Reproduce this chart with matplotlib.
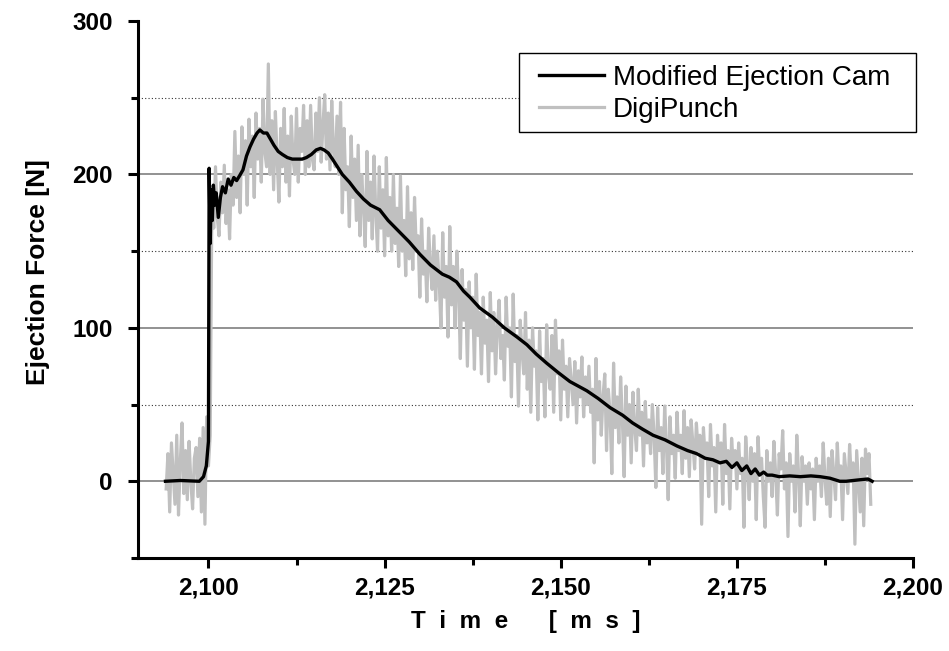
import numpy as np
import matplotlib
matplotlib.use("Agg")
import matplotlib.pyplot as plt
from matplotlib.patches import Rectangle
from matplotlib.ticker import MultipleLocator, FuncFormatter

plt.rcParams['font.family'] = ['Liberation Sans', 'DejaVu Sans']

# Modified Ejection Cam (smooth black trace)
cam_time = [2093.9, 2096.0, 2098.7, 2099.3, 2099.7, 2100.0, 2100.1, 2100.25, 2100.4, 2100.55,
            2100.7, 2100.9, 2101.1, 2101.4, 2101.7, 2102.0, 2102.4, 2102.8, 2103.2, 2103.6,
            2104.0, 2104.4, 2104.9, 2105.4, 2105.9, 2106.4, 2106.9, 2107.3, 2107.8, 2108.3,
            2108.8, 2109.3, 2109.9, 2110.5, 2111.2, 2111.9, 2112.6, 2113.3, 2113.9, 2114.6,
            2115.3, 2115.9, 2116.4, 2117.0, 2117.6, 2118.3, 2119.0, 2120.0, 2121.0, 2122.0,
            2123.0, 2124.3, 2125.5, 2127.0, 2128.5, 2130.0, 2131.5, 2133.2, 2134.2, 2135.2,
            2136.2, 2137.1, 2138.5, 2140.3, 2142.0, 2143.8, 2145.2, 2146.5, 2148.0, 2149.6,
            2151.3, 2152.5, 2153.7, 2155.3, 2157.0, 2158.8, 2160.2, 2161.6, 2163.1, 2164.8,
            2166.5, 2168.0, 2169.3, 2170.5, 2171.6, 2172.6, 2173.5, 2174.3, 2175.0, 2175.7,
            2176.4, 2177.0, 2177.6, 2178.2, 2178.8, 2179.3, 2180.0, 2181.0, 2182.5, 2184.0,
            2185.5, 2186.8, 2188.2, 2189.6, 2190.5, 2191.5, 2192.5, 2193.6, 2194.2]
cam_force = [0, 0.5, 0, 3, 10, 26, 204, 155, 190, 170,
             193, 180, 188, 172, 185, 192, 188, 197, 193, 198,
             196, 199, 203, 212, 218, 223, 227, 229, 227, 227,
             223, 219, 215, 213, 211, 210, 210, 210, 211, 213,
             216, 217, 216, 214, 210, 205, 200, 195, 189, 184,
             180, 177, 170, 163, 156, 148, 141, 135, 133, 130,
             124, 120, 113, 107, 100, 94, 89, 83, 77, 71,
             65, 62, 59, 54, 48, 43, 38, 34, 30, 27,
             23, 20, 18, 15, 14, 12, 13, 9, 12, 7,
             10, 5, 8, 4, 6, 4, 4, 3, 3.5, 3,
             3.5, 3, 2, 0, 0, 0.5, 1, 1.5, 0]

# DigiPunch (noisy grey trace), one reading every 0.25 ms from 2094 ms
digi_start = 2094.0
digi_step = 0.25
digi_force = [
    -5, 18, -20, 25, 5, -15, 30, -22, 12, 38,
    -8, 20, -12, 26, 0, -18, 15, 22, -10, 28,
    -20, 35, -28, 42, 10, 30, 190, 165, 205, 172,
    160, 195, 175, 206, 168, 190, 158, 200, 180, 228,
    185, 212, 175, 231, 200, 222, 180, 236, 205, 225,
    185, 240, 210, 230, 195, 249, 215, 205, 272, 200,
    235, 190, 241, 210, 182, 230, 205, 243, 195, 225,
    186, 238, 210, 200, 243, 195, 230, 215, 245, 200,
    235, 205, 245, 210, 203, 240, 215, 250, 208, 232,
    252, 210, 240, 203, 248, 215, 205, 238, 200, 247,
    175, 230, 190, 205, 166, 225, 185, 210, 170, 219,
    160, 200, 180, 153, 215, 170, 195, 158, 212, 175,
    150, 205, 165, 190, 147, 211, 160, 185, 150, 200,
    155, 178, 140, 199, 150, 170, 134, 192, 145, 175,
    138, 185, 150, 160, 120, 171, 135, 150, 117, 165,
    140, 125, 160, 118, 150, 130, 100, 162, 120, 140,
    94, 166, 115, 140, 100, 150, 125, 80, 138, 105,
    125, 75, 130, 100, 120, 73, 135, 95, 110, 70,
    120, 90, 105, 65, 123, 85, 110, 70, 100, 118,
    80, 95, 66, 120, 88, 100, 55, 122, 78, 95,
    49, 105, 85, 70, 110, 60, 92, 45, 100, 75,
    85, 40, 98, 65, 80, 42, 102, 70, 60, 95,
    45, 105, 70, 85, 40, 92, 60, 75, 42, 80,
    65, 50, 78, 38, 72, 55, 81, 42, 68, 50,
    75, 45, 60, 12, 80, 40, 65, 30, 55, 70,
    20, 60, 45, 5, 77, 35, 55, 25, 68, 40,
    3, 62, 30, 50, 12, 58, 35, 20, 60, 30,
    45, 10, 52, 25, 40, 18, 50, 30, -4, 48,
    20, 35, 5, 49, 25, -12, 42, 18, 30, 2,
    45, 20, 30, 5, 46, 15, 35, 3, 40, 25,
    8, 38, 20, 30, -28, 35, 15, 25, -10, 37,
    10, 22, -20, 30, 12, 25, -15, 37, 5, 20,
    -18, 28, 10, 20, -5, 25, 5, 15, -30, 29,
    10, -12, 22, 0, 18, -25, 29, 5, 15, -10,
    -30, 20, 0, 12, -10, 26, 5, -22, 18, 8,
    33, -5, 12, -36, 18, 0, 10, -20, 30, 5,
    -29, 16, 0, 10, -15, 12, -5, 8, -25, 15,
    0, 10, -10, 25, 2, -15, 15, -23, 20, 5,
    -12, 25, 0, 10, -25, 18, 5, -8, 24, 0,
    12, -41, 20, 0, -20, 15, -29, 21, 5, 18,
    -15]
digi_time = digi_start + digi_step * np.arange(len(digi_force))

fig = plt.figure(figsize=(9.49, 6.51), dpi=100)
ax = fig.add_axes([0.1454, 0.1429, 0.8167, 0.8248])

# grid: solid at major, dotted at minor (y only)
for v in [0, 100, 200]:
    ax.axhline(v, color='#7f7f7f', lw=1.2, zorder=0)
for v in [50, 150, 250]:
    ax.axhline(v, color='#333333', lw=0.8, ls=(0, (1, 2)), zorder=0)

ax.plot(digi_time, digi_force, color='#c0c0c0', lw=2.3, label='DigiPunch', zorder=2)
ax.plot(cam_time, cam_force, color='black', lw=2.4, label='Modified Ejection Cam', zorder=3)

ax.set_xlim(2090, 2200)
ax.set_ylim(-50, 300)
ax.xaxis.set_major_locator(MultipleLocator(25))
ax.xaxis.set_minor_locator(MultipleLocator(12.5))
ax.yaxis.set_major_locator(MultipleLocator(100))
ax.yaxis.set_minor_locator(MultipleLocator(50))
ax.xaxis.set_major_formatter(FuncFormatter(lambda v, p: f"{v:,.0f}"))

for s in ['top', 'right']:
    ax.spines[s].set_visible(False)
for s in ['left', 'bottom']:
    ax.spines[s].set_linewidth(2.2)

ax.tick_params(which='major', direction='out', length=7, width=2.2, labelsize=17.5)
ax.tick_params(axis='y', which='major', pad=11)
ax.tick_params(axis='x', which='major', pad=6)
ax.tick_params(which='minor', direction='out', length=5, width=2.2)
for lab in ax.get_xticklabels() + ax.get_yticklabels():
    lab.set_fontweight('bold')

ax.set_xlabel('T  i  m  e      [  m  s  ]', fontsize=17.5, fontweight='bold', labelpad=8)
ax.set_ylabel('Ejection Force [N]', fontsize=19, fontweight='bold')
ax.yaxis.set_label_coords(-0.114, 0.533)

# legend: frame drawn as a plain rectangle, entries placed inside it
ax.add_patch(Rectangle((0.4916, 0.793), 0.5116, 0.147, transform=ax.transAxes,
                       facecolor='white', edgecolor='black', lw=1.0,
                       clip_on=False, zorder=4))
h, l = ax.get_legend_handles_labels()
leg = ax.legend(h[::-1], l[::-1], loc='upper left', bbox_to_anchor=(0.5174, 0.918),
                fontsize=20, frameon=False, handlelength=2.35, handletextpad=0.3,
                labelspacing=0.22, borderpad=0, borderaxespad=0)
leg.set_zorder(5)

fig.savefig('out.png', dpi=100)
